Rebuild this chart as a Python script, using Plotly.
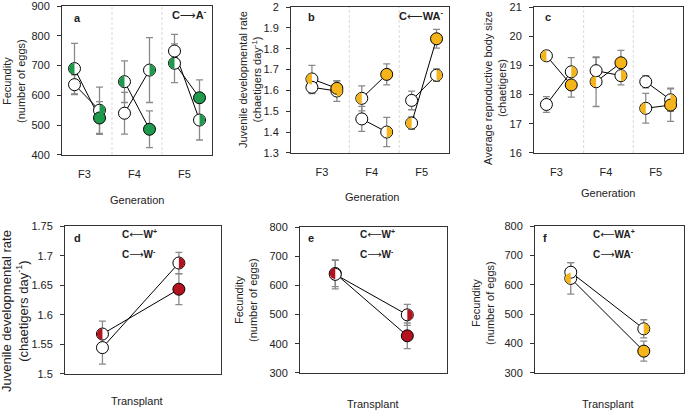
import numpy as np
import plotly.graph_objects as go

W, H = 685, 412

# ---------------- data ----------------
generations = ["F3", "F4", "F5"]

# Panel a: fecundity (number of eggs), C→A-
a_white = [636, 540, 749]
a_white_err = [33, 70, 56]
a_halfL = [690, 646, 708]
a_halfL_err = [85, 70, 65]
a_halfR = [550, 685, 517]
a_halfR_err = [78, 109, 67]
a_full = [524, 486, 592]
a_full_err = [55, 62, 60]

# Panel b: juvenile developmental rate, C←WA-
b_white = [1.615, 1.463, 1.552]
b_white_err = [0.03, 0.06, 0.045]
b_halfL = [1.655, 1.562, 1.443]
b_halfL_err = [0.065, 0.06, 0.03]
b_halfR = [1.597, 1.400, 1.673]
b_halfR_err = [0.05, 0.07, 0.03]
b_full = [1.610, 1.677, 1.848]
b_full_err = [0.035, 0.05, 0.045]

# Panel c: average reproductive body size, C←WA-
c_white = [17.66, 18.82, 18.44]
c_white_err = [0.27, 0.45, 0.21]
c_halfL = [19.33, 18.44, 17.53]
c_halfL_err = [0.1, 0.85, 0.51]
c_halfR = [18.78, 18.65, 17.82]
c_halfR_err = [0.49, 0.32, 0.40]
c_full = [18.33, 19.09, 17.64]
c_full_err = [0.42, 0.43, 0.56]

# Panel d: juvenile developmental rate, C←W+ / C→W-
d_white = [1.5444]
d_white_err = [0.028]
d_halfL = [1.5674]
d_halfL_err = [0.022]
d_halfR = [1.6876]
d_halfR_err = [0.018]
d_full = [1.6433]
d_full_err = [0.026]

# Panel e: fecundity, C←W+ / C→W-
e_white = [638]
e_white_err = [50]
e_halfL = [641]
e_halfL_err = [45]
e_halfR = [499]
e_halfR_err = [36]
e_full = [427]
e_full_err = [44]

# Panel f: fecundity, C←WA+ / C→WA-
f_white = [643]
f_white_err = [33]
f_halfL = [622]
f_halfL_err = [54]
f_halfR = [450]
f_halfR_err = [31]
f_full = [374]
f_full_err = [34]

# tick labels
ticks_a = [400, 500, 600, 700, 800, 900]
ticks_b = [1.3, 1.4, 1.5, 1.6, 1.7, 1.8, 1.9, 2.0]
ticks_b_text = ["1.3", "1.4", "1.5", "1.6", "1.7", "1.8", "1.9", "2"]
ticks_c = [16, 17, 18, 19, 20, 21]
ticks_d = [1.5, 1.55, 1.6, 1.65, 1.7, 1.75]
ticks_d_text = ["1.5", "1.55", "1.6", "1.65", "1.7", "1.75"]
ticks_ef = [300, 400, 500, 600, 700, 800]

GREEN = "#1f9a4c"
GOLD = "#f4b41a"
RED = "#b3121e"
ERR = "#8a8a8a"
AXC = "#333333"
FONT = "Arial, Liberation Sans, sans-serif"
ARROW_STYLE = "font-family:DejaVu Sans;font-weight:normal"
RARR = f'<span style="{ARROW_STYLE}">⟶</span>'
LARR = f'<span style="{ARROW_STYLE}">⟵</span>'

fig = go.Figure()
shapes = []
annotations = []


def px(x):
    return x / W


def py(y):
    return 1 - y / H


def half_path(r, side):
    if side == "left":
        th = np.linspace(np.pi / 2, 3 * np.pi / 2, 25)
    else:
        th = np.linspace(-np.pi / 2, np.pi / 2, 25)
    pts = [f"{r*np.cos(t):.3f},{r*np.sin(t):.3f}" for t in th]
    return "M " + " L ".join(pts) + " Z"


MS = 12


def add_panel(k, xl, xr, white, white_e, halfL, halfL_e, halfR, halfR_e,
              full, full_e, color):
    xa = "x" if k == 1 else f"x{k}"
    ya = "y" if k == 1 else f"y{k}"
    common = dict(xaxis=xa, yaxis=ya, showlegend=False, hoverinfo="skip")
    for xs, ys, es in [(xl, white, white_e), (xl, halfL, halfL_e),
                       (xr, halfR, halfR_e), (xr, full, full_e)]:
        fig.add_trace(go.Scatter(
            x=xs, y=ys, mode="markers", marker=dict(size=1, opacity=0),
            error_y=dict(type="data", array=es, color=ERR, thickness=1.3, width=3.5),
            **common))
    for i in range(len(xl)):
        fig.add_trace(go.Scatter(x=[xl[i], xr[i]], y=[white[i], halfR[i]], mode="lines",
                                 line=dict(color="black", width=1), **common))
        fig.add_trace(go.Scatter(x=[xl[i], xr[i]], y=[halfL[i], full[i]], mode="lines",
                                 line=dict(color="black", width=1), **common))
    mk_white = dict(size=MS, color="white", line=dict(color="black", width=1))
    fig.add_trace(go.Scatter(x=xl, y=halfL, mode="markers", marker=mk_white, **common))
    fig.add_trace(go.Scatter(x=xl, y=white, mode="markers", marker=mk_white, **common))
    fig.add_trace(go.Scatter(x=xr, y=halfR, mode="markers", marker=mk_white, **common))
    fig.add_trace(go.Scatter(x=xr, y=full, mode="markers",
                             marker=dict(size=MS, color=color, line=dict(color="black", width=1)),
                             **common))
    for x, y in zip(xl, halfL):
        shapes.append(dict(type="path", xref=xa, yref=ya, xsizemode="pixel", ysizemode="pixel",
                           xanchor=x, yanchor=y, path=half_path(MS / 2 - 0.45, "left"),
                           fillcolor=color, line=dict(width=0), layer="above"))
    for x, y in zip(xr, halfR):
        shapes.append(dict(type="path", xref=xa, yref=ya, xsizemode="pixel", ysizemode="pixel",
                           xanchor=x, yanchor=y, path=half_path(MS / 2 - 0.45, "right"),
                           fillcolor=color, line=dict(width=0), layer="above"))


# panel pixel boxes (x0, x1, y0, y1)
boxes = {
    1: (62, 212, 6, 155),
    2: (291, 449, 7, 153),
    3: (534, 683, 7, 153),
    4: (65, 221, 226, 374),
    5: (300, 447, 227, 373),
    6: (535, 684, 226, 373),
}

gidx = np.arange(len(generations))
xl_top = list(gidx + 0.25)
xr_top = list(gidx + 0.75)
xl_bot = [0.24]
xr_bot = [0.73]

add_panel(1, xl_top, xr_top, a_white, a_white_err, a_halfL, a_halfL_err, a_halfR, a_halfR_err,
          a_full, a_full_err, GREEN)
add_panel(2, xl_top, xr_top, b_white, b_white_err, b_halfL, b_halfL_err, b_halfR, b_halfR_err,
          b_full, b_full_err, GOLD)
add_panel(3, xl_top, xr_top, c_white, c_white_err, c_halfL, c_halfL_err, c_halfR, c_halfR_err,
          c_full, c_full_err, GOLD)
add_panel(4, xl_bot, xr_bot, d_white, d_white_err, d_halfL, d_halfL_err, d_halfR, d_halfR_err,
          d_full, d_full_err, RED)
add_panel(5, xl_bot, xr_bot, e_white, e_white_err, e_halfL, e_halfL_err, e_halfR, e_halfR_err,
          e_full, e_full_err, RED)
add_panel(6, xl_bot, xr_bot, f_white, f_white_err, f_halfL, f_halfL_err, f_halfR, f_halfR_err,
          f_full, f_full_err, GOLD)

yinfo = {
    1: ([400, 900], ticks_a, [str(t) for t in ticks_a]),
    2: ([1.3, 2.0], ticks_b, ticks_b_text),
    3: ([16, 21], ticks_c, [str(t) for t in ticks_c]),
    4: ([1.5, 1.75], ticks_d, ticks_d_text),
    5: ([300, 800], ticks_ef, [str(t) for t in ticks_ef]),
    6: ([300, 800], ticks_ef, [str(t) for t in ticks_ef]),
}
xranges = {1: [0, 3], 2: [-0.17, 3], 3: [0, 3], 4: [0, 1], 5: [0, 1], 6: [0, 1]}

layout = {}
for k, (x0, x1, y0, y1) in boxes.items():
    xs = "xaxis" if k == 1 else f"xaxis{k}"
    ys = "yaxis" if k == 1 else f"yaxis{k}"
    xa = "x" if k == 1 else f"x{k}"
    ya = "y" if k == 1 else f"y{k}"
    top = k <= 3
    layout[xs] = dict(domain=[px(x0), px(x1)], range=xranges[k], anchor=ya,
                      showline=True, mirror=True, linecolor=AXC, linewidth=1,
                      ticks="", showgrid=False, zeroline=False, automargin=False,
                      tickvals=list(gidx + 0.45) if top else [],
                      ticktext=generations if top else [],
                      showticklabels=top, ticklabelstandoff=9,
                      tickfont=dict(size=11, color="#222"))
    rng, tv, tt = yinfo[k]
    eps = (rng[1] - rng[0]) * 0.001
    layout[ys] = dict(domain=[py(y1), py(y0)], range=[rng[0] - eps, rng[1] + eps], anchor=xa,
                      showline=True, mirror=True, linecolor=AXC, linewidth=1,
                      ticks="outside", ticklen=4, tickcolor=AXC, tickwidth=1,
                      tickvals=tv, ticktext=tt, showgrid=False, zeroline=False,
                      automargin=False,
                      ticklabelstandoff=5, tickfont=dict(size=11, color="#222"))
    if top:
        for xv in [1, 2]:
            shapes.append(dict(type="line", xref=xa, yref=f"{ya} domain", x0=xv, x1=xv,
                               y0=0, y1=1, line=dict(color="#cfcfcf", width=0.8, dash="3px,2px"),
                               layer="below"))


def ann(text, x, y, size=11, bold=False, angle=0, xanchor="center"):
    t = f"<b>{text}</b>" if bold else text
    annotations.append(dict(text=t, x=px(x), y=py(y), xref="paper", yref="paper",
                            showarrow=False, textangle=angle, xanchor=xanchor, yanchor="middle",
                            font=dict(size=size, family=FONT, color="#222")))


# panel letters
for letter, (x, y) in {"a": (77, 18), "b": (311, 17), "c": (548, 17),
                       "d": (77, 238), "e": (311, 238), "f": (545, 238)}.items():
    ann(letter, x, y, size=11, bold=True)

ann(f"C{RARR}A<sup>-</sup>", 189, 15, size=11, bold=True)
ann(f"C{LARR}WA<sup>-</sup>", 421, 16, size=11, bold=True)
ann(f"C{LARR}W<sup>+</sup>", 120, 234, size=10, bold=True, xanchor="left")
ann(f"C{RARR}W<sup>-</sup>", 120, 254, size=10, bold=True, xanchor="left")
ann(f"C{LARR}W<sup>+</sup>", 358, 234, size=10, bold=True, xanchor="left")
ann(f"C{RARR}W<sup>-</sup>", 358, 254, size=10, bold=True, xanchor="left")
ann(f"C{LARR}WA<sup>+</sup>", 591, 234, size=10, bold=True, xanchor="left")
ann(f"C{RARR}WA<sup>-</sup>", 591, 254, size=10, bold=True, xanchor="left")

# axis titles
fec = "Fecundity<br>(number of eggs)"
jdr = "Juvenile developmental rate<br>(chaetigers day<sup>-1</sup>)"
ann(fec, 14, 81, size=11, angle=-90)
ann(jdr, 250, 80, size=11, angle=-90)
ann("Average reproductive body size<br>(chaetigers)", 495, 88, size=11, angle=-90)
ann(jdr, 15, 311, size=13, angle=-90)
ann(fec, 246, 300, size=11, angle=-90)
ann(fec, 483, 303, size=11, angle=-90)

ann("Generation", 137, 200, size=11)
ann("Generation", 372, 197, size=11)
ann("Generation", 608, 193, size=11)
ann("Transplant", 137, 401, size=11)
ann("Transplant", 373, 404, size=11)
ann("Transplant", 608, 404, size=11)

fig.update_layout(width=W, height=H, margin=dict(l=0, r=0, t=0, b=0),
                  plot_bgcolor="white", paper_bgcolor="white",
                  font=dict(family=FONT, size=11, color="#222"),
                  shapes=shapes, annotations=annotations, **layout)

fig.write_html("out.html", config={"displayModeBar": False},
               post_script="document.body.style.margin='0';")
